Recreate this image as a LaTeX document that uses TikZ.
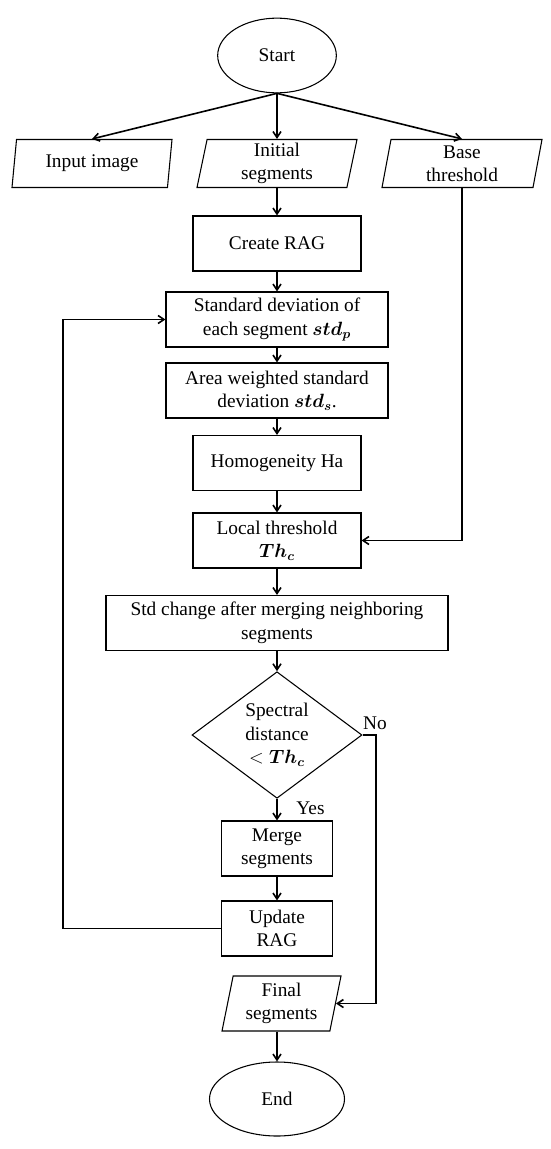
\documentclass[tikz,border=0pt]{standalone}
\usepackage{amsmath,bm}
\usepackage{fontspec}
\setmainfont{Liberation Serif}
\usetikzlibrary{arrows.meta,positioning,shapes.geometric}

\begin{document}
\begin{tikzpicture}[
      x=0.75pt, y=-0.75pt,
      every node/.style={font=\fontsize{14.5}{17.6}\selectfont, align=center},
      terminal/.style={ellipse, draw, line width=0.8pt, inner sep=0pt},
      data/.style={trapezium, trapezium left angle=77, trapezium right angle=103,
        trapezium stretches body, draw, line width=0.8pt, inner sep=1pt,
        minimum width=120pt, minimum height=36pt},
      proc/.style={rectangle, draw, line width=0.8pt, inner sep=0pt, minimum height=41.25pt},
      decide/.style={diamond, draw, line width=0.8pt, inner sep=0pt,
        minimum width=127.5pt, minimum height=93.75pt},
      arr/.style={-{Straight Barb[length=4.5pt,width=6pt]}, line width=1.2pt},
      link/.style={line width=1.2pt}
    ]
    \useasboundingbox (0,0) rectangle (550,1149);
    % start and the three inputs
    \node[terminal, minimum width=89pt, minimum height=56pt] (start) at (277,55.5) {Start};
    \node[data] (input) at (92,163.5) {Input image};
    \node[data] (init)  at (277,163.5) {Initial\\segments};
    \node[data] (base)  at (462,163.5) {Base\\threshold};
    % main column
    \node[proc, minimum width=126pt]   (rag)    at (277,243.5) {Create RAG};
    \node[proc, minimum width=166.5pt] (stdp)   at (277,319.5) {Standard deviation of\\each segment $\bm{std_p}$};
    \node[proc, minimum width=166.5pt] (stds)   at (277,390.5) {Area weighted standard\\deviation $\bm{std_s}$.};
    \node[proc, minimum width=126pt]   (homog)  at (277,463) {Homogeneity Ha};
    \node[proc, minimum width=126pt]   (local)  at (277,540.5) {Local threshold\\$\bm{Th_c}$};
    \node[proc, minimum width=256.5pt] (change) at (277,623) {Std change after merging neighboring\\segments};
    \node[decide] (dist) at (277,735) {Spectral\\distance\\$<\bm{Th_c}$};
    \node[proc, minimum width=83.25pt] (merge)  at (277,848.5) {Merge\\segments};
    \node[proc, minimum width=83.25pt] (update) at (277,928.5) {Update\\RAG};
    \node[data, minimum width=89.25pt, minimum height=41.25pt,
          trapezium left angle=75.7, trapezium right angle=104.3] (final) at (281.5,1003.5) {Final\\segments};
    \node[terminal, minimum width=101.25pt, minimum height=55.5pt] (end) at (277,1099) {End};
    % branch labels
    \node (no)  at (375,723) {No};
    \node (yes) at (310.5,808) {Yes};
    \coordinate (nocorner) at (376,735);
    \coordinate (loopcorner) at (63,928.5);
    % connectors
    \draw[arr] (start.south) -- (input.north);
    \draw[arr] (start.south) -- (init.north);
    \draw[arr] (start.south) -- (base.north);
    \draw[arr] (init.south) -- (rag.north);
    \draw[arr] (rag) -- (stdp);
    \draw[arr] (stdp) -- (stds);
    \draw[arr] (stds) -- (homog);
    \draw[arr] (homog) -- (local);
    \draw[arr] (base.south) |- (local.east);
    \draw[arr] (local) -- (change);
    \draw[arr] (change) -- (dist);
    \draw[arr] (dist) -- (merge);
    \draw[arr] (merge) -- (update);
    \draw[arr] (update.west) -- (loopcorner) |- (stdp.west);
    \draw[arr] (dist.east) -- (nocorner) |- (final.east);
    \draw[arr] (final.south -| end.north) -- (end.north);
  \end{tikzpicture}
\end{document}
